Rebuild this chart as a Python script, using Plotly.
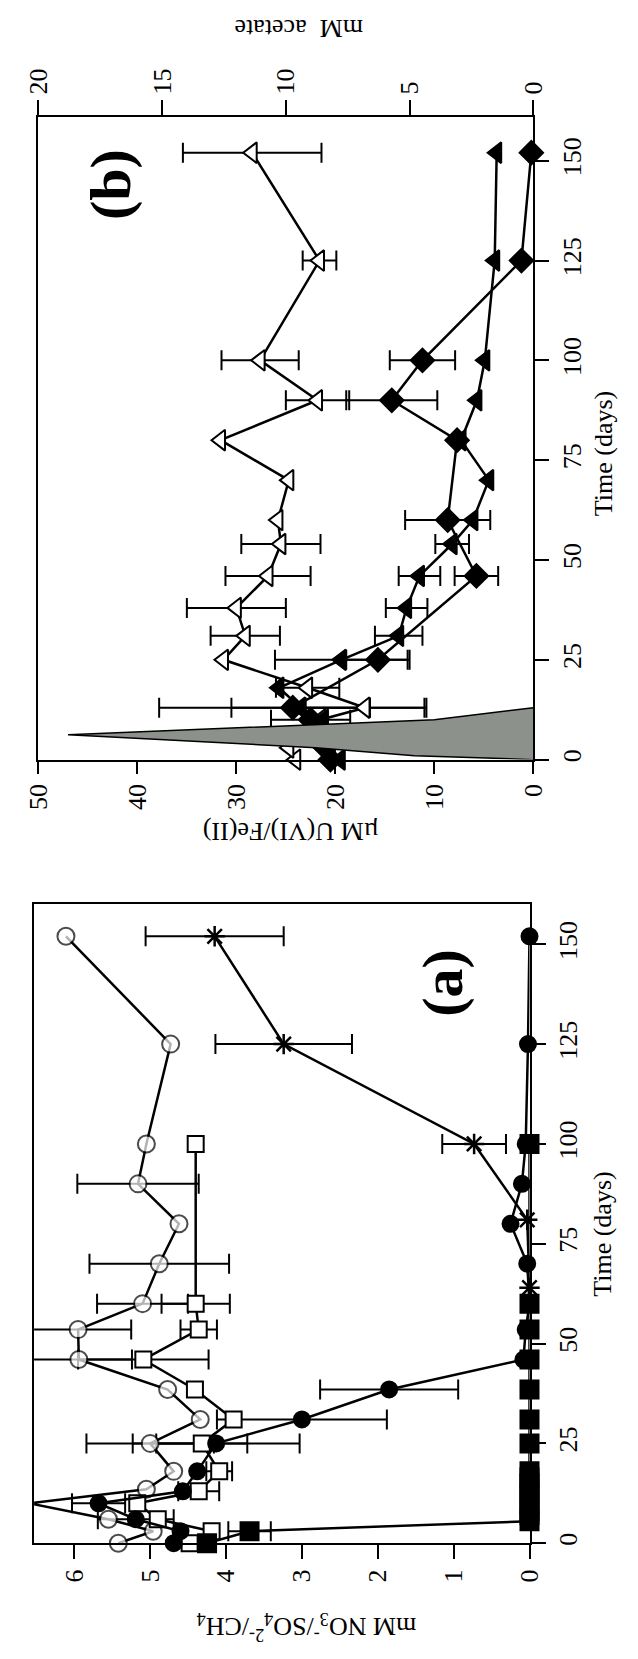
import plotly.graph_objects as go

W, H = 638, 1659

# ---------------- Panel (a): mM NO3- / SO4 2- / CH4 ----------------
a_oc_t = [0, 3, 6, 10, 13.5, 18, 25, 31, 38.5, 46, 53.5, 60, 70, 80, 90, 100, 125, 152]
a_oc_v = [5.42, 4.96, 5.55, 6.6, 5.05, 4.69, 5.0, 4.34, 4.77, 5.94, 5.95, 5.1, 4.88, 4.62, 5.16, 5.05, 4.73, 6.11]
a_oc_e = [0, 0, 0, 0, 0, 0, 0.84, 0, 0, 0.7, 0.7, 0.6, 0.92, 0, 0.8, 0, 0, 0]

a_os_t = [0, 3, 6, 10, 13, 18, 25, 31, 38.5, 46, 53.5, 60, 100]
a_os_v = [4.48, 4.19, 4.9, 5.17, 4.36, 4.09, 4.32, 3.9, 4.41, 5.09, 4.36, 4.4, 4.4]
a_os_e = [0, 0, 0, 0, 0.27, 0.17, 0.6, 0, 0, 0.86, 0.24, 0.45, 0]

a_fc_t = [0, 3, 6, 10, 13, 18, 25, 31, 38.5, 46, 53.5, 60, 70, 80, 90, 100, 125, 152]
a_fc_v = [4.69, 4.6, 5.19, 5.68, 4.57, 4.38, 4.13, 3.0, 1.85, 0.08, 0.05, 0.0, 0.03, 0.25, 0.1, 0.05, 0.02, 0.0]
a_fc_e = [0, 0, 0.5, 0.35, 0, 0, 1.1, 1.12, 0.91, 0, 0, 0, 0, 0, 0, 0, 0, 0]

a_fs_t = [0, 3, 5.5, 7, 8, 10, 12, 13, 15, 16.5, 18, 25, 31, 38.5, 46, 53.5, 60, 100]
a_fs_v = [4.25, 3.69, 0, 0, 0, 0, 0, 0, 0, 0, 0, 0, 0, 0, 0, 0, 0, 0]
a_fs_e = [0, 0.28, 0, 0, 0, 0, 0, 0, 0, 0, 0, 0, 0, 0, 0, 0, 0, 0]

a_ch4_t = [64, 81, 100, 125, 152]
a_ch4_v = [0.0, 0.03, 0.73, 3.24, 4.15]
a_ch4_e = [0, 0, 0.42, 0.9, 0.91]

# ---------------- Panel (b): uM U(VI)/Fe(II), mM acetate ----------------
b_ot_t = [0, 3, 6, 10, 13, 18, 25, 31, 38, 46, 54, 60, 70, 80, 90, 100, 125, 152]
b_ot_v = [24.0, 24.7, 23.0, 21.5, 17.0, 22.8, 31.3, 29.1, 30.0, 26.8, 25.5, 25.8, 24.7, 31.6, 21.8, 27.6, 21.6, 28.4]
b_ot_e = [0, 0, 0, 0, 6.0, 3.2, 0, 3.5, 5.0, 4.3, 4.0, 0, 0, 0, 3.2, 3.9, 1.7, 7.0]

b_di_t = [0, 3, 6, 10, 13, 25, 46, 60, 80, 90, 100, 125, 152]
b_di_v = [20.5, 21.0, 21.5, 22.5, 24.3, 15.7, 5.75, 8.65, 7.7, 14.3, 11.2, 1.2, 0.2]
b_di_e = [0, 0, 0, 4.0, 13.5, 3.2, 2.2, 4.3, 0, 4.6, 3.3, 0, 0]

b_ft_t = [0, 3, 6, 10, 13, 18, 25, 31, 38, 46, 54, 60, 70, 80, 90, 100, 125, 152]
b_ft_v = [19.5, 20.5, 22.0, 21.2, 23.5, 25.7, 19.4, 13.6, 12.8, 11.5, 8.2, 6.1, 4.5, 7.3, 5.7, 4.9, 3.9, 3.7]
b_ft_e = [0, 0, 0, 0, 7.0, 0, 6.7, 2.4, 2.1, 2.1, 1.7, 0, 0, 0, 0, 0, 0, 0]

b_ac_t = [0, 1, 3, 6.2, 10, 13]
b_ac_v = [0, 4.8, 8.8, 18.8, 4.0, 0]

time_ticks = [0, 25, 50, 75, 100, 125, 150]
a_val_ticks = [0, 1, 2, 3, 4, 5, 6]
b_val_ticks = [0, 10, 20, 30, 40, 50]
b_ac_ticks = [0, 5, 10, 15, 20]

A_MAX = 6.53
B_MAX = 50
AC_MAX = 20

FONT = "Liberation Serif"
LW = 2.5


def err_trace(t, v, e, xa, ya):
    # error bars only for points that have one, drawn beneath the markers
    idx = [i for i, x in enumerate(e) if x > 0]
    return go.Scatter(
        x=[v[i] for i in idx], y=[t[i] for i in idx], xaxis=xa, yaxis=ya,
        mode="markers", marker=dict(size=1, color="rgba(0,0,0,0)"),
        error_x=dict(type="data", array=[e[i] for i in idx], visible=True,
                     color="black", thickness=2, width=10),
        showlegend=False, hoverinfo="skip")


def series(t, v, xa, ya, symbol, fill, size, sizes=None):
    return go.Scatter(
        x=v, y=t, xaxis=xa, yaxis=ya, mode="lines+markers",
        line=dict(color="black", width=LW),
        marker=dict(symbol=symbol, size=sizes if sizes is not None else size,
                    color=fill, line=dict(color="black", width=2)),
        cliponaxis=False, showlegend=False, hoverinfo="skip",
    )


fig = go.Figure()

# acetate area (panel b)
fig.add_trace(go.Scatter(
    x=b_ac_v, y=b_ac_t, xaxis="x3", yaxis="y", mode="lines",
    line=dict(color="black", width=1.5), fill="tozerox",
    fillcolor="#8c918c", showlegend=False, hoverinfo="skip"))

# error bars
for t, v, e, xa, ya in [
    (b_ot_t, b_ot_v, b_ot_e, "x", "y"),
    (b_ft_t, b_ft_v, b_ft_e, "x", "y"),
    (b_di_t, b_di_v, b_di_e, "x", "y"),
    (a_oc_t, a_oc_v, a_oc_e, "x2", "y2"),
    (a_os_t, a_os_v, a_os_e, "x2", "y2"),
    (a_fs_t, a_fs_v, a_fs_e, "x2", "y2"),
    (a_fc_t, a_fc_v, a_fc_e, "x2", "y2"),
    (a_ch4_t, a_ch4_v, a_ch4_e, "x2", "y2"),
]:
    fig.add_trace(err_trace(t, v, e, xa, ya))

fig.add_trace(series(b_ot_t, b_ot_v, "x", "y", "triangle-left", "white", 18))
fig.add_trace(series(b_ft_t, b_ft_v, "x", "y", "triangle-left", "black", 18))
fig.add_trace(series(b_di_t, b_di_v, "x", "y", "diamond", "black", 18))

# panel a
oc_sizes = [17 if v <= A_MAX else 0 for v in a_oc_v]
fig.add_trace(series(a_oc_t, a_oc_v, "x2", "y2", "circle", "white", 17, oc_sizes))
fig.add_trace(series(a_os_t, a_os_v, "x2", "y2", "square", "white", 16))
fig.add_trace(series(a_fs_t, a_fs_v, "x2", "y2", "square", "black", 18))
fig.add_trace(series(a_fc_t, a_fc_v, "x2", "y2", "circle", "black", 16))
fig.add_trace(go.Scatter(
    x=a_ch4_v, y=a_ch4_t, xaxis="x2", yaxis="y2", mode="lines+markers",
    line=dict(color="black", width=LW),
    marker=dict(symbol="asterisk-open", size=17, color="black",
                line=dict(color="black", width=2.5)),
    cliponaxis=False, showlegend=False, hoverinfo="skip"))


def px(x):
    return x / W


def py(y):
    return 1 - y / H


axis_common = dict(showgrid=False, zeroline=False, linecolor="black", linewidth=2,
                   ticks="outside", tickwidth=2, tickcolor="black",
                   tickfont=dict(family=FONT, size=26, color="black"),
                   tickangle=-90, mirror=True, fixedrange=True)

fig.update_layout(
    width=W, height=H, margin=dict(l=0, r=0, t=0, b=0),
    paper_bgcolor="white", plot_bgcolor="white", showlegend=False,
    font=dict(family=FONT, size=26, color="black"),
    xaxis=dict(domain=[px(24.5), px(543)], range=[B_MAX, 0], anchor="y",
               tickvals=b_val_ticks, ticklen=12, **axis_common),
    yaxis=dict(domain=[py(761), py(117)], range=[0, 161], anchor="x", side="right",
               tickvals=time_ticks, ticklen=14, **axis_common),
    xaxis3=dict(overlaying="x", anchor="y", side="top", range=[AC_MAX, 0],
                tickvals=b_ac_ticks, ticklen=15,
                **{k: v for k, v in axis_common.items() if k != "mirror"}),
    xaxis2=dict(domain=[px(20), px(539)], range=[A_MAX, 0], anchor="y2",
                tickvals=a_val_ticks, ticklen=14, **axis_common),
    yaxis2=dict(domain=[py(1546), py(906)], range=[0, 160], anchor="x2", side="right",
                tickvals=time_ticks, ticklen=14, **axis_common),
)

ann = []


def add_text(text, x, y, angle, size=26, bold=False):
    ann.append(dict(text=f"<b>{text}</b>" if bold else text, x=px(x), y=py(y),
                    xref="paper", yref="paper", showarrow=False, textangle=angle,
                    xanchor="center", yanchor="middle",
                    font=dict(family=FONT, size=size, color="black")))


add_text("mM  acetate", 297, 28, 180)
add_text("\u00b5M U(VI)/Fe(II)", 289, 833, 180)
add_text("mM NO<sub>3</sub><sup>-</sup>/SO<sub>4</sub><sup>2-</sup>/CH<sub>4</sub>", 305, 1630, 180)
add_text("Time (days)", 616, 455, -90)
add_text("Time (days)", 616, 1237, -90)
add_text("(b)", 100, 185, -90, size=58, bold=True)
add_text("(a)", 448, 985, -90, size=58, bold=True)
fig.update_layout(annotations=ann)

fig.write_html("out.html")
